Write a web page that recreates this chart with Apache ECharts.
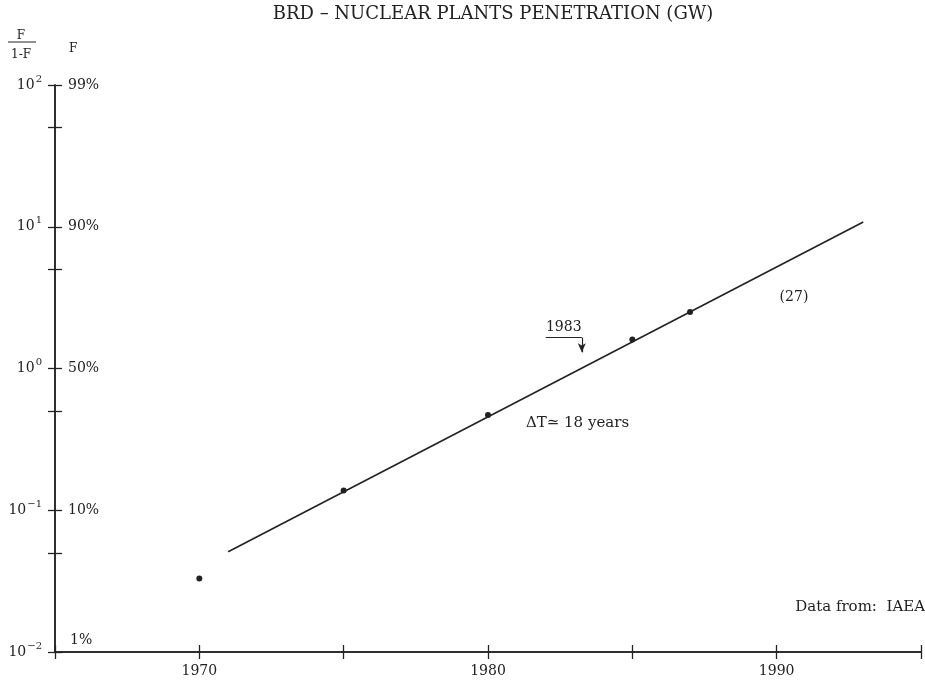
<!DOCTYPE html>
<html><head><meta charset="utf-8">
<script src="https://cdn.jsdelivr.net/npm/echarts@6/dist/echarts.min.js"></script>
<style>html,body{margin:0;padding:0;background:#fff}#c{width:925px;height:683px}</style>
</head><body><div id="c"></div>
<script>
const titleText = 'BRD – NUCLEAR PLANTS PENETRATION (GW)';
const pointYears = [1970, 1975, 1980, 1985, 1987];
const pointValues = [0.033, 0.138, 0.47, 1.6, 2.5];
const fitYears = [1971, 1993];
const fitValues = [0.051, 10.8];
const xLabelYears = [1970, 1980, 1990];
const yMajorTicks = [0.01, 0.1, 1, 10, 100];
const yMinorTicks = [0.05, 0.5, 5, 50];
const yExponents = ['−2', '−1', '0', '1', '2'];
const yPercentLabels = ['1%', '10%', '50%', '90%', '99%'];
const bracketYears = [1982.0, 1983.25];
const bracketValues = [1.65, 1.3];
const bracketLabel = '1983';
const annoTexts = ['ΔT≃ 18 years', '(27)'];
const annoYears = [1983.1, 1990.6];
const annoValues = [0.41, 3.2];
const annoSizes = [15, 14];
const sourceText = 'Data from:  IAEA';

const FONT = 'DejaVu Serif';
const INK = '#222';
const allTicks = yMajorTicks.concat(yMinorTicks).sort((a, b) => a - b);
const expIdx = v => Math.round(Math.log10(v)) + 2;

const chart = echarts.init(document.getElementById('c'));
const baseY = {
  type: 'log', logBase: 10, min: 0.01, max: 100,
  splitLine: { show: false },
  axisLine: { show: true, lineStyle: { color: INK, width: 1.5 } },
};
const baseX = {
  type: 'value', min: 1965, max: 1995, interval: 5,
  splitLine: { show: false },
  axisLine: { show: true, onZero: false, lineStyle: { color: INK, width: 1.5 } },
};
chart.setOption({
  animation: false,
  backgroundColor: '#fff',
  title: {
    text: titleText, left: 488, top: 0, textAlign: 'center',
    textStyle: { fontFamily: FONT, fontSize: 18, fontWeight: 'normal', color: INK }
  },
  grid: { left: 55, right: 4, top: 85, bottom: 31 },
  xAxis: [
    Object.assign({}, baseX, {
      position: 'bottom',
      axisTick: { show: true, inside: false, length: 7, lineStyle: { color: INK, width: 1.3 } },
      axisLabel: {
        margin: 12, fontFamily: FONT, fontSize: 14, color: INK,
        formatter: v => xLabelYears.includes(v) ? String(v) : ''
      }
    }),
    Object.assign({}, baseX, {
      position: 'bottom',
      axisTick: { show: true, inside: true, length: 7, lineStyle: { color: INK, width: 1.3 } },
      axisLabel: { show: false }
    })
  ],
  yAxis: [
    Object.assign({}, baseY, {
      position: 'left',
      name: '{n|F}\n{d|1-F}',
      nameLocation: 'end', nameGap: 21,
      nameTextStyle: {
        align: 'right', padding: [0, 20, 0, 0],
        rich: {
          n: { fontFamily: FONT, fontSize: 12, color: INK, align: 'center', width: 28, lineHeight: 19 },
          d: { fontFamily: FONT, fontSize: 12, color: INK, align: 'center', width: 28, lineHeight: 19 }
        }
      },
      axisTick: { show: true, inside: false, length: 7, customValues: allTicks, lineStyle: { color: INK, width: 1.3 } },
      axisLabel: {
        margin: 13, customValues: yMajorTicks,
        formatter: v => '{b|10}{s|' + yExponents[expIdx(v)] + '}',
        rich: {
          b: { fontFamily: FONT, fontSize: 14, color: INK },
          s: { fontFamily: FONT, fontSize: 10, color: INK, padding: [0, 0, 12, 1] }
        }
      }
    }),
    Object.assign({}, baseY, {
      position: 'left', offset: 0,
      name: 'F', nameLocation: 'end', nameGap: 30,
      nameTextStyle: { align: 'left', padding: [0, 0, 0, 14], fontFamily: FONT, fontSize: 12, color: INK },
      axisTick: { show: true, inside: true, length: 7, customValues: allTicks, lineStyle: { color: INK, width: 1.3 } },
      axisLabel: {
        inside: true, margin: 13, customValues: yMajorTicks,
        formatter: v => {
          const i = expIdx(v);
          return i === 0 ? '{low|' + yPercentLabels[i] + '}' : '{p|' + yPercentLabels[i] + '}';
        },
        rich: {
          p: { fontFamily: FONT, fontSize: 14, color: INK },
          low: { fontFamily: FONT, fontSize: 14, color: INK, padding: [0, 0, 24, 2] }
        }
      }
    })
  ],
  graphic: [
    { type: 'line', shape: { x1: 8, y1: 42, x2: 36, y2: 42 }, style: { stroke: INK, lineWidth: 1 } },
    { type: 'text', right: 0, top: 600, style: { text: sourceText, font: '15px "DejaVu Serif"', fill: INK } }
  ],
  series: [
    {
      type: 'line', xAxisIndex: 0, yAxisIndex: 0,
      data: fitYears.map((y, i) => [y, fitValues[i]]),
      showSymbol: false, symbol: 'none',
      lineStyle: { color: INK, width: 1.6 },
      markLine: {
        silent: true, symbol: ['none', 'none'], animation: false,
        lineStyle: { color: INK, width: 1.2, type: 'solid' },
        label: { show: false },
        data: [
          [
            { coord: [bracketYears[0], bracketValues[0]], label: { show: true, formatter: bracketLabel, position: 'middle', distance: 3, fontFamily: FONT, fontSize: 14, color: INK } },
            { coord: [bracketYears[1], bracketValues[0]] }
          ],
          [
            { coord: [bracketYears[1], bracketValues[0]] },
            { coord: [bracketYears[1], bracketValues[1]], symbol: 'arrow', symbolSize: [6, 9] }
          ]
        ]
      }
    },
    {
      type: 'scatter', xAxisIndex: 0, yAxisIndex: 0,
      data: pointYears.map((y, i) => [y, pointValues[i]]),
      symbol: 'circle', symbolSize: 6,
      itemStyle: { color: INK, opacity: 1 }
    },
    {
      type: 'scatter', xAxisIndex: 0, yAxisIndex: 0,
      data: annoYears.map((y, i) => ({
        value: [y, annoValues[i]],
        label: { fontSize: annoSizes[i] }
      })),
      symbolSize: 0, silent: true,
      itemStyle: { opacity: 1 },
      label: {
        show: true, position: 'inside', fontFamily: FONT, color: INK, opacity: 1,
        formatter: p => annoTexts[p.dataIndex]
      }
    }
  ]
});
</script>
</body></html>
